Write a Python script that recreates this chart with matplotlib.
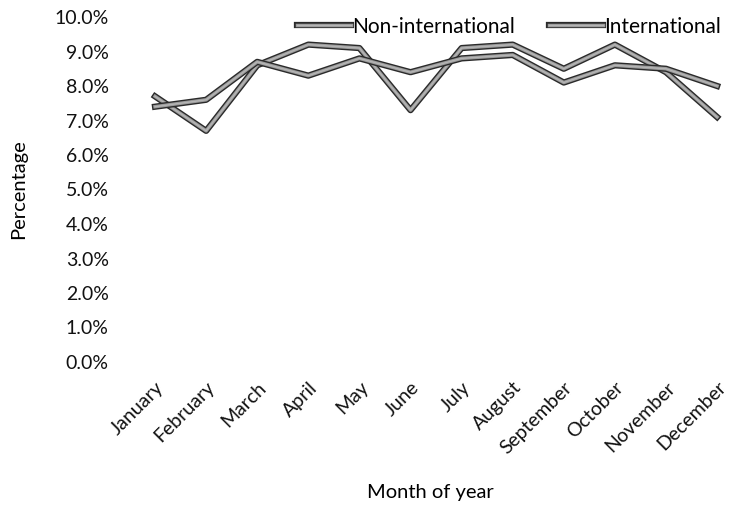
import matplotlib
matplotlib.use("Agg")
import matplotlib.pyplot as plt
import matplotlib.patheffects as pe
from matplotlib.ticker import PercentFormatter

# values (percent)
months = ["January", "February", "March", "April", "May", "June", "July",
          "August", "September", "October", "November", "December"]
non_international = [7.7, 6.7, 8.6, 9.2, 9.1, 7.3, 9.1, 9.2, 8.5, 9.2, 8.4, 7.1]
international = [7.4, 7.6, 8.7, 8.3, 8.8, 8.4, 8.8, 8.9, 8.1, 8.6, 8.5, 8.0]

plt.rcParams['font.family'] = ['Lato', 'DejaVu Sans']

fig = plt.figure(figsize=(7.29, 5.2), dpi=100)
ax = fig.add_axes([129.5 / 729, 158 / 520, (729 - 129.5) / 729, 345 / 520])

# grey line with a dark outline, like the scanned original
effects = [pe.Stroke(linewidth=4.5, foreground='#2a2a2a'),
           pe.Stroke(linewidth=2.5, foreground='#9a9a9a'),
           pe.Normal()]

x = range(len(months))
ax.plot(x, non_international, color='#b5b5b5', lw=1.0,
        path_effects=effects, label='Non-international')
ax.plot(x, international, color='#b5b5b5', lw=1.0,
        path_effects=effects, label='International')

ax.set_xlim(-0.5, (729 - 155) / 51.1)
ax.set_ylim(0, 10)
ax.set_yticks(range(0, 11))
ax.yaxis.set_major_formatter(PercentFormatter(decimals=1))
ax.set_xticks(list(x))
ax.set_xticklabels(months, rotation=45, ha='right', rotation_mode='anchor')

for s in ax.spines.values():
    s.set_visible(False)
ax.tick_params(axis='both', length=0, labelsize=14, colors='#111111')
ax.tick_params(axis='y', pad=15)
ax.tick_params(axis='x', pad=12)

ax.set_ylabel('Percentage', fontsize=14.5)
ax.yaxis.set_label_coords((27 - 129.5) / (729 - 129.5), 0.5)
ax.set_xlabel('Month of year', fontsize=14.5)
ax.xaxis.set_label_coords((430 - 129.5) / (729 - 129.5), -0.355)

ax.legend(loc='upper right', bbox_to_anchor=(1.0, 1.025), ncol=2, frameon=False,
          fontsize=15, handlelength=2.6, handletextpad=0.05, columnspacing=1.6,
          borderaxespad=0)

plt.savefig("out.png", dpi=100)
